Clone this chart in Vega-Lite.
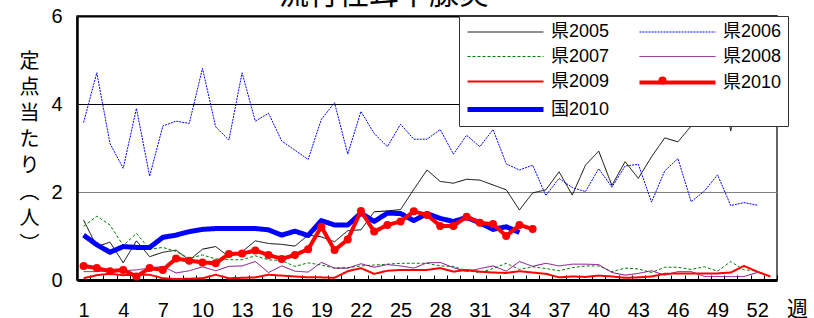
{
  "$schema": "https://vega.github.io/schema/vega-lite/v6.json",
  "width": 700,
  "height": 264,
  "autosize": {"type": "none"},
  "padding": {"left": 77, "top": 16, "right": 37, "bottom": 38},
  "background": "white",
  "title": {"text": "流行性耳下腺炎", "font": "Noto Sans CJK JP", "fontSize": 30, "fontWeight": "normal", "anchor": "middle", "baseline": "alphabetic", "offset": -28, "dx": -43, "color": "black"},
  "config": {"view": {"stroke": "#333", "strokeWidth": 1.5}, "font": "Liberation Sans"},
  "data": {"values": [
    {"week": 1, "県2005": 1.36, "県2006": 3.58, "県2007": 1.22, "県2008": 0.19, "県2009": 0.04, "国2010": 1.02, "県2010": 0.32},
    {"week": 2, "県2005": 0.76, "県2006": 4.71, "県2007": 1.45, "県2008": 0.19, "県2009": 0.11, "国2010": 0.80, "県2010": 0.27},
    {"week": 3, "県2005": 0.86, "県2006": 3.10, "県2007": 1.25, "県2008": 0.21, "県2009": 0.14, "国2010": 0.63, "県2010": 0.20},
    {"week": 4, "県2005": 0.39, "県2006": 2.54, "県2007": 0.78, "県2008": 0.21, "県2009": 0.11, "国2010": 0.76, "県2010": 0.23},
    {"week": 5, "県2005": 0.89, "県2006": 3.90, "県2007": 1.06, "県2008": 0.23, "県2009": 0.12, "国2010": 0.74, "県2010": 0.08},
    {"week": 6, "県2005": 0.53, "県2006": 2.36, "県2007": 0.70, "県2008": 0.27, "県2009": 0.12, "国2010": 0.74, "県2010": 0.27},
    {"week": 7, "県2005": 0.63, "県2006": 3.50, "県2007": 0.74, "県2008": 0.31, "県2009": 0.04, "国2010": 0.97, "県2010": 0.23},
    {"week": 8, "県2005": 0.68, "県2006": 3.61, "県2007": 0.65, "県2008": 0.16, "県2009": 0.02, "国2010": 1.02, "県2010": 0.49},
    {"week": 9, "県2005": 0.45, "県2006": 3.56, "県2007": 0.49, "県2008": 0.21, "県2009": 0.03, "国2010": 1.10, "県2010": 0.44},
    {"week": 10, "県2005": 0.70, "県2006": 4.81, "県2007": 0.57, "県2008": 0.30, "県2009": 0.04, "国2010": 1.15, "県2010": 0.40},
    {"week": 11, "県2005": 0.76, "県2006": 3.48, "県2007": 0.48, "県2008": 0.21, "県2009": 0.12, "国2010": 1.17, "県2010": 0.38},
    {"week": 12, "県2005": 0.53, "県2006": 3.18, "県2007": 0.46, "県2008": 0.31, "県2009": 0.04, "国2010": 1.17, "県2010": 0.59},
    {"week": 13, "県2005": 0.64, "県2006": 4.71, "県2007": 0.46, "県2008": 0.32, "県2009": 0.05, "国2010": 1.17, "県2010": 0.60},
    {"week": 14, "県2005": 0.89, "県2006": 3.61, "県2007": 0.55, "県2008": 0.42, "県2009": 0.06, "国2010": 1.17, "県2010": 0.67},
    {"week": 15, "県2005": 0.83, "県2006": 3.79, "県2007": 0.46, "県2008": 0.17, "県2009": 0.12, "国2010": 1.14, "県2010": 0.57},
    {"week": 16, "県2005": 0.81, "県2006": 3.16, "県2007": 0.44, "県2008": 0.32, "県2009": 0.10, "国2010": 1.02, "県2010": 0.48},
    {"week": 17, "県2005": 0.77, "県2006": 2.95, "県2007": 0.31, "県2008": 0.20, "県2009": 0.08, "国2010": 1.11, "県2010": 0.57},
    {"week": 18, "県2005": 1.02, "県2006": 2.74, "県2007": 0.39, "県2008": 0.18, "県2009": 0.06, "国2010": 1.01, "県2010": 0.70},
    {"week": 19, "県2005": 0.98, "県2006": 3.65, "県2007": 0.34, "県2008": 0.40, "県2009": 0.06, "国2010": 1.35, "県2010": 1.21},
    {"week": 20, "県2005": 0.87, "県2006": 4.03, "県2007": 0.27, "県2008": 0.27, "県2009": 0.05, "国2010": 1.25, "県2010": 0.68},
    {"week": 21, "県2005": 1.12, "県2006": 2.86, "県2007": 0.28, "県2008": 0.27, "県2009": 0.20, "国2010": 1.25, "県2010": 0.92},
    {"week": 22, "県2005": 1.14, "県2006": 3.83, "県2007": 0.32, "県2008": 0.37, "県2009": 0.27, "国2010": 1.52, "県2010": 1.57},
    {"week": 23, "県2005": 1.55, "県2006": 3.33, "県2007": 0.34, "県2008": 0.29, "県2009": 0.14, "国2010": 1.33, "県2010": 1.10},
    {"week": 24, "県2005": 1.57, "県2006": 3.03, "県2007": 0.36, "県2008": 0.35, "県2009": 0.21, "国2010": 1.52, "県2010": 1.25},
    {"week": 25, "県2005": 1.60, "県2006": 3.54, "県2007": 0.38, "県2008": 0.32, "県2009": 0.23, "国2010": 1.51, "県2010": 1.33},
    {"week": 26, "県2005": 2.06, "県2006": 3.20, "県2007": 0.38, "県2008": 0.27, "県2009": 0.23, "国2010": 1.35, "県2010": 1.56},
    {"week": 27, "県2005": 2.50, "県2006": 3.20, "県2007": 0.38, "県2008": 0.39, "県2009": 0.23, "国2010": 1.51, "県2010": 1.48},
    {"week": 28, "県2005": 2.24, "県2006": 3.42, "県2007": 0.32, "県2008": 0.40, "県2009": 0.27, "国2010": 1.40, "県2010": 1.23},
    {"week": 29, "県2005": 2.20, "県2006": 2.86, "県2007": 0.31, "県2008": 0.28, "県2009": 0.19, "国2010": 1.33, "県2010": 1.23},
    {"week": 30, "県2005": 2.29, "県2006": 3.29, "県2007": 0.21, "県2008": 0.19, "県2009": 0.23, "国2010": 1.42, "県2010": 1.44},
    {"week": 31, "県2005": 2.27, "県2006": 3.03, "県2007": 0.17, "県2008": 0.26, "県2009": 0.19, "国2010": 1.30, "県2010": 1.30},
    {"week": 32, "県2005": 2.16, "県2006": 3.42, "県2007": 0.26, "県2008": 0.32, "県2009": 0.17, "国2010": 1.15, "県2010": 1.27},
    {"week": 33, "県2005": 2.05, "県2006": 2.64, "県2007": 0.38, "県2008": 0.20, "県2009": 0.16, "国2010": 1.21, "県2010": 1.00},
    {"week": 34, "県2005": 1.59, "県2006": 2.50, "県2007": 0.24, "県2008": 0.42, "県2009": 0.20, "国2010": 1.08, "県2010": 1.25},
    {"week": 35, "県2005": 1.98, "県2006": 2.61, "県2007": 0.30, "県2008": 0.31, "県2009": 0.17, "県2010": 1.16},
    {"week": 36, "県2005": 2.05, "県2006": 1.92, "県2007": 0.26, "県2008": 0.38, "県2009": 0.14},
    {"week": 37, "県2005": 2.46, "県2006": 2.31, "県2007": 0.21, "県2008": 0.32, "県2009": 0.06},
    {"week": 38, "県2005": 1.93, "県2006": 2.10, "県2007": 0.28, "県2008": 0.36, "県2009": 0.08},
    {"week": 39, "県2005": 2.61, "県2006": 2.01, "県2007": 0.32, "県2008": 0.36, "県2009": 0.07},
    {"week": 40, "県2005": 2.93, "県2006": 2.53, "県2007": 0.32, "県2008": 0.35, "県2009": 0.10},
    {"week": 41, "県2005": 2.15, "県2006": 2.11, "県2007": 0.19, "県2008": 0.17, "県2009": 0.08},
    {"week": 42, "県2005": 2.69, "県2006": 2.59, "県2007": 0.27, "県2008": 0.11, "県2009": 0.05},
    {"week": 43, "県2005": 2.31, "県2006": 2.63, "県2007": 0.25, "県2008": 0.15, "県2009": 0.06},
    {"week": 44, "県2005": 2.80, "県2006": 1.77, "県2007": 0.17, "県2008": 0.21, "県2009": 0.08},
    {"week": 45, "県2005": 3.23, "県2006": 2.48, "県2007": 0.29, "県2008": 0.11, "県2009": 0.14},
    {"week": 46, "県2005": 3.14, "県2006": 2.76, "県2007": 0.29, "県2008": 0.19, "県2009": 0.15},
    {"week": 47, "県2005": 3.50, "県2006": 1.78, "県2007": 0.24, "県2008": 0.19, "県2009": 0.15},
    {"week": 48, "県2005": 4.30, "県2006": 2.02, "県2007": 0.30, "県2008": 0.08, "県2009": 0.15},
    {"week": 49, "県2005": 4.80, "県2006": 2.39, "県2007": 0.20, "県2008": 0.08, "県2009": 0.15},
    {"week": 50, "県2005": 3.39, "県2006": 1.69, "県2007": 0.42, "県2008": 0.08, "県2009": 0.17},
    {"week": 51, "県2005": 5.00, "県2006": 1.76, "県2007": 0.23, "県2008": 0.08, "県2009": 0.32},
    {"week": 52, "県2005": 5.00, "県2006": 1.70, "県2007": 0.21, "県2008": 0.17, "県2009": 0.19},
    {"week": 53, "県2009": 0.08}
  ]},
  "transform": [
    {"fold": ["県2005", "県2006", "県2007", "県2008", "県2009", "国2010", "県2010"], "as": ["series", "v"]},
    {"filter": "isValid(datum.v)"}
  ],
  "encoding": {
    "x": {
      "field": "week", "type": "ordinal",
      "scale": {"type": "band", "domain": [1,2,3,4,5,6,7,8,9,10,11,12,13,14,15,16,17,18,19,20,21,22,23,24,25,26,27,28,29,30,31,32,33,34,35,36,37,38,39,40,41,42,43,44,45,46,47,48,49,50,51,52,53], "paddingInner": 0, "paddingOuter": 0},
      "axis": {
        "labelExpr": "(datum.value - 1) % 3 === 0 ? datum.label : ''",
        "labelAngle": 0, "labelFontSize": 20, "labelColor": "black", "labelFont": "Liberation Sans",
        "labelBaseline": "middle", "labelPadding": 35,
        "tickBand": "extent", "tickSize": -5, "tickColor": "black", "tickWidth": 1,
        "domainColor": "black", "domainWidth": 3,
        "title": "週", "titleFont": "Noto Sans CJK JP", "titleFontSize": 21, "titleFontWeight": "normal", "titleColor": "black",
        "titleX": 720, "titleY": 29, "titleBaseline": "middle", "titleAlign": "center", "titleAngle": 0
      }
    },
    "y": {
      "field": "v", "type": "quantitative",
      "scale": {"domain": [0, 6], "nice": false},
      "axis": {
        "values": [0, 2, 4, 6], "ticks": false,
        "labelFontSize": 20, "labelColor": "black", "labelFont": "Liberation Sans", "labelPadding": 15,
        "domainColor": "black", "domainWidth": 2.5,
        "grid": true,
        "gridColor": {"condition": {"test": "datum.value === 4 || datum.value === 6", "value": "black"}, "value": "#808080"},
        "gridWidth": {"condition": {"test": "datum.value === 6", "value": 2}, "value": 1},
        "title": ["定", "点", "当", "た", "り", "︵", "人", "︶"],
        "titleFont": "Noto Sans CJK JP", "titleFontSize": 20, "titleFontWeight": "normal", "titleColor": "black",
        "titleAngle": 0, "titleAlign": "center", "titleBaseline": "top",
        "titleX": -48, "titleY": 35, "titleLineHeight": 26.2
      }
    }
  },
  "layer": [
    {
      "mark": {"type": "line", "strokeJoin": "round", "strokeCap": "butt"},
      "encoding": {
        "color": {
          "field": "series", "type": "nominal",
          "scale": {"domain": ["県2005", "県2006", "県2007", "県2008", "県2009", "県2010", "国2010"], "range": ["#000000", "#0000FF", "#008000", "#800080", "#FF0000", "#FF0000", "#0000FF"]},
          "legend": {
            "orient": "none", "legendX": 382, "legendY": 0, "columns": 2, "direction": "horizontal", "title": null,
            "labelFontSize": 18, "labelFont": "Liberation Sans, Noto Sans CJK JP", "labelColor": "black",
            "symbolType": "M-1,0L7,0", "symbolSize": 361, "labelOffset": 62,
            "padding": 6, "rowPadding": 5.5, "columnPadding": 21,
            "strokeColor": "#333", "fillColor": "white"
          }
        },
        "strokeDash": {
          "field": "series", "type": "nominal",
          "scale": {"domain": ["県2005", "県2006", "県2007", "県2008", "県2009", "県2010", "国2010"], "range": [[1, 0], [2, 1], [3, 2], [1, 0], [1, 0], [1, 0], [1, 0]]}
        },
        "strokeWidth": {
          "field": "series", "type": "nominal",
          "scale": {"type": "ordinal", "domain": ["県2005", "県2006", "県2007", "県2008", "県2009", "県2010", "国2010"], "range": [1, 1, 1, 1, 2, 4, 5]}
        }
      }
    },
    {
      "transform": [{"filter": "datum.series === '県2010'"}],
      "mark": {"type": "point", "filled": true, "size": 64, "opacity": 1, "strokeWidth": 0, "color": "#FF0000"},
      "encoding": {
        "shape": {
          "field": "series", "type": "nominal",
          "scale": {"domain": ["県2010"], "range": ["circle"]},
          "legend": {
            "orient": "none", "legendX": 581.5, "legendY": 60.5, "title": null,
            "labelExpr": "''", "labelFontSize": 1, "labelOffset": 0,
            "symbolSize": 64, "symbolFillColor": "#FF0000", "symbolStrokeWidth": 0, "padding": 0
          }
        }
      }
    }
  ]
}
